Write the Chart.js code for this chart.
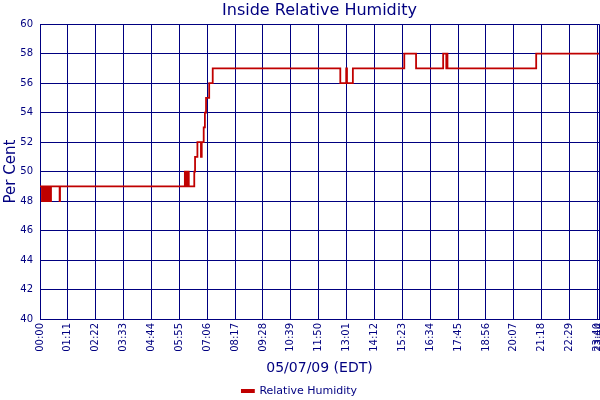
<!DOCTYPE html>
<html>
<head>
<meta charset="utf-8">
<script src="https://cdn.jsdelivr.net/npm/chart.js@4"></script>
<style>
  html, body { margin: 0; padding: 0; background: #fff; }
  #wrap { width: 600px; height: 400px; }
</style>
</head>
<body>
<div id="wrap"><canvas id="humChart"></canvas></div>
<script>
'use strict';

// times where the reading changed (HH:MM) and the reading from then on
let sampleTimes = ['00:00','00:05','00:09','00:10','00:13','00:15','00:18','00:20','00:23','00:26','00:28','00:50','00:51',
  '06:09','06:12','06:13','06:15','06:17','06:19','06:33','06:35','06:41','06:50','06:52','06:57','07:00','07:03','07:11','07:20',
  '12:45','13:00','13:02','13:17','15:28','15:58','17:07','17:15','17:17','17:18','21:04','23:44'];
let humidityValues = [49,48,49,48,49,48,49,48,49,48,49,48,49,
  50,49,50,49,50,49,50,51,52,51,52,53,54,55,56,57,
  56,57,56,57,58,57,58,57,58,57,58,58];

// axis labels
let xTickLabels = ['00:00','01:11','02:22','03:33','04:44','05:55','07:06','08:17','09:28','10:39','11:50',
  '13:01','14:12','15:23','16:34','17:45','18:56','20:07','21:18','22:29','23:40','23:44'];
let yMin = 40;
let yMax = 60;
let yStep = 2;

const navy = '#000080';
const lineRed = '#C00000';
const fontName = '"DejaVu Sans", Verdana, sans-serif';

//turns 'HH:MM' into minutes after midnight
function toMinutes(t) {
  let parts = t.split(':');
  return parseInt(parts[0]) * 60 + parseInt(parts[1]);
}

let points = [];
for (let i = 0; i < sampleTimes.length; i++) {
  points.push({x: toMinutes(sampleTimes[i]), y: humidityValues[i]});
}
let tickMinutes = xTickLabels.map(toMinutes);

const data = {
  datasets: [{
    label: 'Relative Humidity',
    data: points,
    borderColor: lineRed,
    backgroundColor: lineRed,
    borderWidth: 1.8,
    pointRadius: 0,
    stepped: true,
    fill: false
  }]
};

const config = {
  type: 'line',
  data: data,
  options: {
    animation: false,
    responsive: true,
    maintainAspectRatio: false,
    layout: {
      padding: {left: 0, right: 1, top: 0, bottom: 0}
    },
    plugins: {
      title: {
        display: true,
        fullSize: false,
        text: 'Inside Relative Humidity',
        color: navy,
        font: {family: fontName, size: 16, weight: 'normal'},
        padding: {top: 1, bottom: 4}
      },
      legend: {
        position: 'bottom',
        maxHeight: 21, // keeps the legend low, under the axis title
        labels: {
          color: navy,
          font: {family: fontName, size: 11},
          boxWidth: 12,
          boxHeight: 2,
          padding: 6.5
        }
      },
      tooltip: {enabled: false}
    },
    scales: {
      x: {
        type: 'linear',
        min: tickMinutes[0],
        max: tickMinutes[tickMinutes.length - 1],
        afterBuildTicks: function(scale) {
          scale.ticks = tickMinutes.map(v => ({value: v}));
        },
        afterFit: function(scale) {
          scale.height = 60;
          scale.paddingRight = 0;
          scale.paddingLeft = 0;
        },
        ticks: {
          autoSkip: false,
          minRotation: 90,
          maxRotation: 90,
          padding: 4,
          color: navy,
          font: {family: fontName, size: 10},
          callback: function(value, index) {
            return xTickLabels[index];
          }
        },
        grid: {
          color: navy,
          lineWidth: 1,
          drawTicks: false
        },
        border: {color: navy, width: 1},
        title: {
          display: true,
          text: '05/07/09 (EDT)',
          color: navy,
          font: {family: fontName, size: 14},
          padding: {top: 0, bottom: 2}
        }
      },
      y: {
        min: yMin,
        max: yMax,
        afterFit: function(scale) {
          scale.width = 40;
        },
        ticks: {
          stepSize: yStep,
          padding: 7,
          color: navy,
          font: {family: fontName, size: 10}
        },
        grid: {
          color: navy,
          lineWidth: 1,
          drawTicks: false
        },
        border: {color: navy, width: 1},
        title: {
          display: true,
          text: 'Per Cent',
          color: navy,
          font: {family: fontName, size: 15},
          padding: {top: 2, bottom: 0}
        }
      }
    }
  }
};

const myChart = new Chart(document.getElementById('humChart'), config);
</script>
</body>
</html>
